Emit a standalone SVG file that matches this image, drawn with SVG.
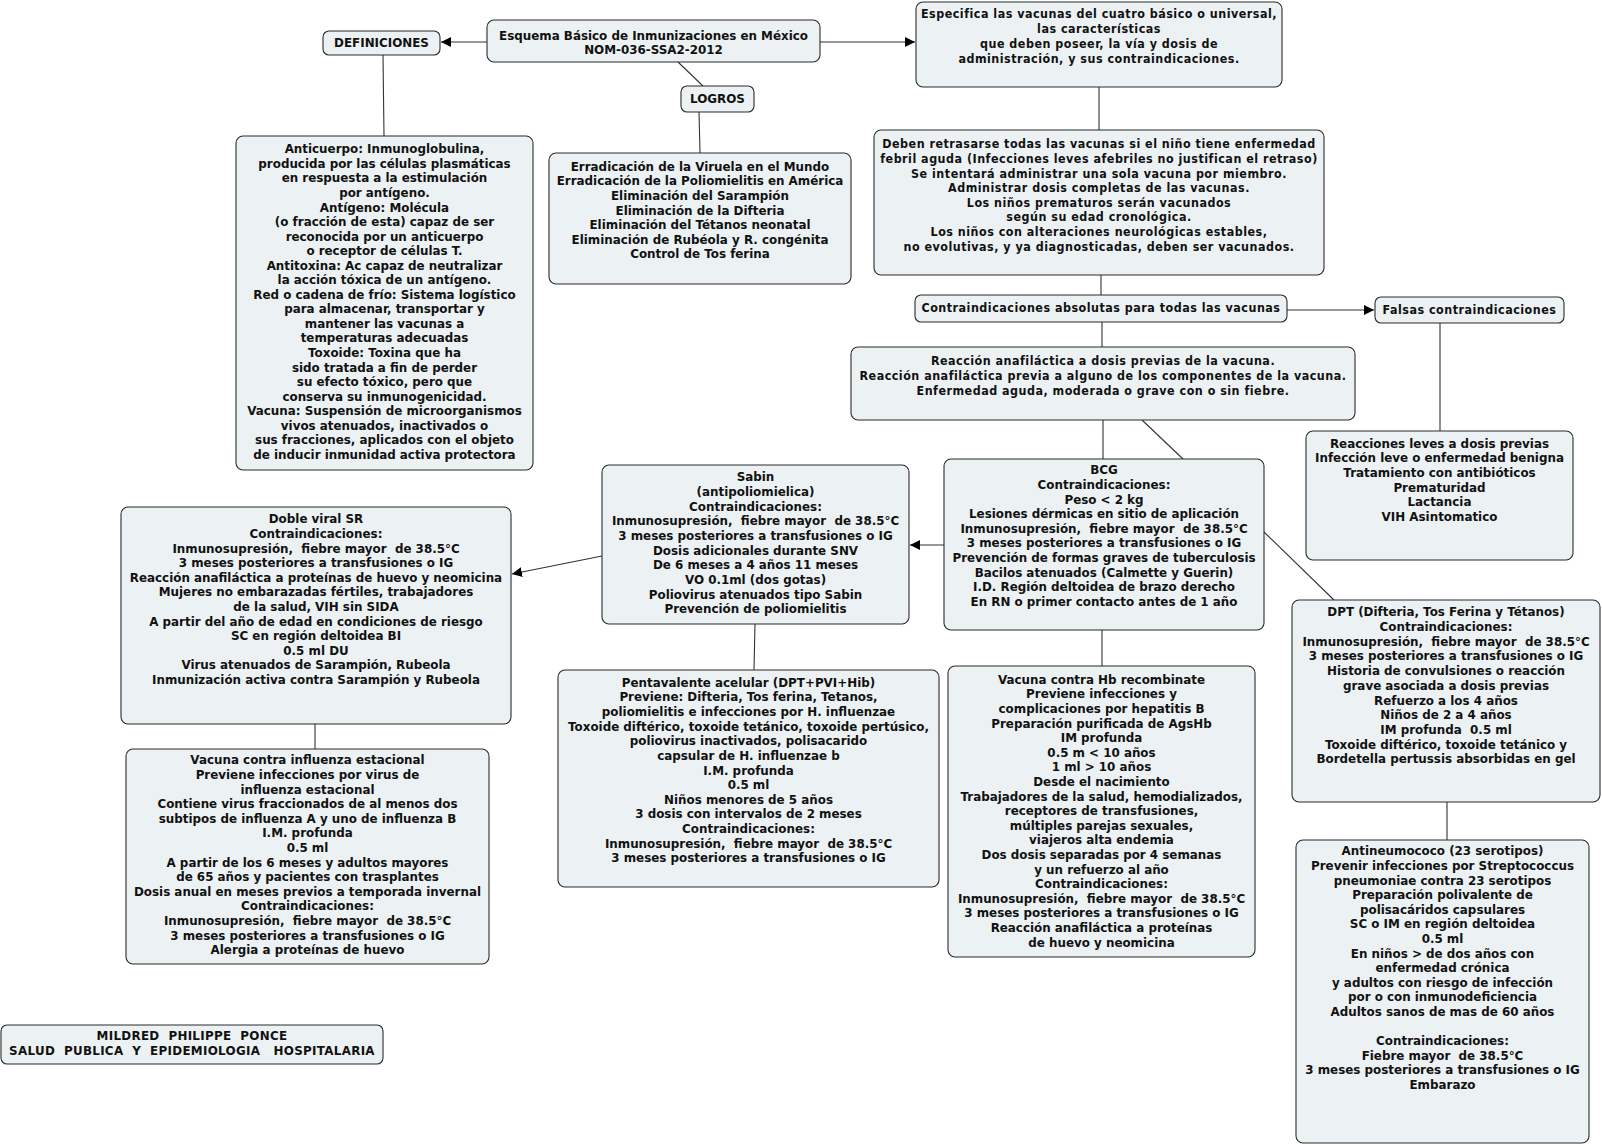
<svg xmlns="http://www.w3.org/2000/svg" width="1602" height="1147" viewBox="0 0 1602 1147">
<style>
.bx{fill:#ecf2f4;stroke:#2b2b2b;stroke-width:1.1}
.t{font-family:"DejaVu Sans",Verdana,sans-serif;font-weight:bold;font-size:11.9px;fill:#111;text-anchor:middle;white-space:pre}
.c{font-family:"DejaVu Sans Condensed","DejaVu Sans",sans-serif;font-weight:bold;font-size:12.4px;letter-spacing:0.5px;fill:#111;text-anchor:middle;white-space:pre}
.ln{stroke:#333;stroke-width:1.1;fill:none}
</style>
<defs>
<marker id="ar" viewBox="0 0 10 10" refX="10" refY="5" markerWidth="10" markerHeight="10" markerUnits="userSpaceOnUse" orient="auto">
<path d="M0,0 L10,5 L0,10 z" fill="#000"/>
</marker>
</defs>
<rect width="1602" height="1147" fill="#fff"/>
<g id="connectors">
<line class="ln" x1="487" y1="42" x2="441" y2="42" marker-end="url(#ar)"/>
<line class="ln" x1="820" y1="42" x2="915" y2="42" marker-end="url(#ar)"/>
<line class="ln" x1="678" y1="62" x2="703" y2="86"/>
<line class="ln" x1="699" y1="112" x2="700" y2="153"/>
<line class="ln" x1="383" y1="55" x2="384" y2="136"/>
<line class="ln" x1="1099" y1="87" x2="1099" y2="130"/>
<line class="ln" x1="1101" y1="275" x2="1101" y2="295"/>
<line class="ln" x1="1287" y1="310" x2="1374" y2="310" marker-end="url(#ar)"/>
<line class="ln" x1="1102" y1="322" x2="1102" y2="347"/>
<line class="ln" x1="1440" y1="323" x2="1440" y2="431"/>
<line class="ln" x1="1103" y1="420" x2="1103" y2="459"/>
<line class="ln" x1="1142" y1="420" x2="1183" y2="459"/>
<line class="ln" x1="944" y1="545" x2="910" y2="545" marker-end="url(#ar)"/>
<line class="ln" x1="602" y1="556" x2="512" y2="574" marker-end="url(#ar)"/>
<line class="ln" x1="315" y1="724" x2="315" y2="749"/>
<line class="ln" x1="755" y1="624" x2="754" y2="670"/>
<line class="ln" x1="1102" y1="630" x2="1102" y2="666"/>
<line class="ln" x1="1264" y1="532" x2="1334" y2="600"/>
<line class="ln" x1="1447" y1="802" x2="1447" y2="840"/>
</g>
<g id="n-definiciones">
<rect class="bx" x="323" y="31" width="117" height="24" rx="6"/>
<text class="t" x="381.5" y="46.5">DEFINICIONES</text>
</g>
<g id="n-title">
<rect class="bx" x="487" y="20" width="333" height="42" rx="7"/>
<text class="t" x="653.5" y="39.5">Esquema Básico de Inmunizaciones en México<tspan x="653.5" dy="14.5">NOM-036-SSA2-2012</tspan></text>
</g>
<g id="n-logros">
<rect class="bx" x="681" y="86" width="73" height="26" rx="6"/>
<text class="t" x="717.5" y="102.5">LOGROS</text>
</g>
<g id="n-especifica">
<rect class="bx" x="916" y="2" width="366" height="85" rx="7"/>
<text class="c" x="1099" y="17.5">Especifica las vacunas del cuatro básico o universal,<tspan x="1099" dy="15">las características</tspan><tspan x="1099" dy="15">que deben poseer, la vía y dosis de</tspan><tspan x="1099" dy="15">administración, y sus contraindicaciones.</tspan></text>
</g>
<g id="n-anticuerpo">
<rect class="bx" x="236" y="136" width="297" height="334" rx="7"/>
<text class="t" x="384.5" y="153.3">Anticuerpo: Inmunoglobulina,<tspan x="384.5" dy="14.55">producida por las células plasmáticas</tspan><tspan x="384.5" dy="14.55">en respuesta a la estimulación</tspan><tspan x="384.5" dy="14.55">por antígeno.</tspan><tspan x="384.5" dy="14.55">Antígeno: Molécula</tspan><tspan x="384.5" dy="14.55">(o fracción de esta) capaz de ser</tspan><tspan x="384.5" dy="14.55">reconocida por un anticuerpo</tspan><tspan x="384.5" dy="14.55">o receptor de células T.</tspan><tspan x="384.5" dy="14.55">Antitoxina: Ac capaz de neutralizar</tspan><tspan x="384.5" dy="14.55">la acción tóxica de un antígeno.</tspan><tspan x="384.5" dy="14.55">Red o cadena de frío: Sistema logístico</tspan><tspan x="384.5" dy="14.55">para almacenar, transportar y</tspan><tspan x="384.5" dy="14.55">mantener las vacunas a</tspan><tspan x="384.5" dy="14.55">temperaturas adecuadas</tspan><tspan x="384.5" dy="14.55">Toxoide: Toxina que ha</tspan><tspan x="384.5" dy="14.55">sido tratada a fin de perder</tspan><tspan x="384.5" dy="14.55">su efecto tóxico, pero que</tspan><tspan x="384.5" dy="14.55">conserva su inmunogenicidad.</tspan><tspan x="384.5" dy="14.55">Vacuna: Suspensión de microorganismos</tspan><tspan x="384.5" dy="14.55">vivos atenuados, inactivados o</tspan><tspan x="384.5" dy="14.55">sus fracciones, aplicados con el objeto</tspan><tspan x="384.5" dy="14.55">de inducir inmunidad activa protectora</tspan></text>
</g>
<g id="n-logros-list">
<rect class="bx" x="549" y="153" width="302" height="131" rx="7"/>
<text class="t" x="700" y="170.8">Erradicación de la Viruela en el Mundo<tspan x="700" dy="14.6">Erradicación de la Poliomielitis en América</tspan><tspan x="700" dy="14.6">Eliminación del Sarampión</tspan><tspan x="700" dy="14.6">Eliminación de la Difteria</tspan><tspan x="700" dy="14.6">Eliminación del Tétanos neonatal</tspan><tspan x="700" dy="14.6">Eliminación de Rubéola y R. congénita</tspan><tspan x="700" dy="14.6">Control de Tos ferina</tspan></text>
</g>
<g id="n-deben">
<rect class="bx" x="874" y="130" width="450" height="145" rx="7"/>
<text class="c" x="1099" y="148.3">Deben retrasarse todas las vacunas si el niño tiene enfermedad<tspan x="1099" dy="14.6">febril aguda (Infecciones leves afebriles no justifican el retraso)</tspan><tspan x="1099" dy="14.6">Se intentará administrar una sola vacuna por miembro.</tspan><tspan x="1099" dy="14.6">Administrar dosis completas de las vacunas.</tspan><tspan x="1099" dy="14.6">Los niños prematuros serán vacunados</tspan><tspan x="1099" dy="14.6">según su edad cronológica.</tspan><tspan x="1099" dy="14.6">Los niños con alteraciones neurológicas estables,</tspan><tspan x="1099" dy="14.6">no evolutivas, y ya diagnosticadas, deben ser vacunados.</tspan></text>
</g>
<g id="n-contra-abs">
<rect class="bx" x="915" y="295" width="372" height="27" rx="6"/>
<text class="c" x="1101" y="311.8">Contraindicaciones absolutas para todas las vacunas</text>
</g>
<g id="n-falsas">
<rect class="bx" x="1375" y="297" width="189" height="26" rx="6"/>
<text class="c" x="1469.5" y="313.9">Falsas contraindicaciones</text>
</g>
<g id="n-reaccion">
<rect class="bx" x="851" y="347" width="504" height="73" rx="7"/>
<text class="c" x="1103" y="365">Reacción anafiláctica a dosis previas de la vacuna.<tspan x="1103" dy="14.8">Reacción anafiláctica previa a alguno de los componentes de la vacuna.</tspan><tspan x="1103" dy="14.8">Enfermedad aguda, moderada o grave con o sin fiebre.</tspan></text>
</g>
<g id="n-reacciones-leves">
<rect class="bx" x="1306" y="431" width="267" height="129" rx="7"/>
<text class="t" x="1439.5" y="447.7">Reacciones leves a dosis previas<tspan x="1439.5" dy="14.6">Infección leve o enfermedad benigna</tspan><tspan x="1439.5" dy="14.6">Tratamiento con antibióticos</tspan><tspan x="1439.5" dy="14.6">Prematuridad</tspan><tspan x="1439.5" dy="14.6">Lactancia</tspan><tspan x="1439.5" dy="14.6">VIH Asintomatico</tspan></text>
</g>
<g id="n-sabin">
<rect class="bx" x="602" y="465" width="307" height="159" rx="7"/>
<text class="t" x="755.5" y="481.3">Sabin<tspan x="755.5" dy="14.67">(antipoliomielica)</tspan><tspan x="755.5" dy="14.67">Contraindicaciones:</tspan><tspan x="755.5" dy="14.67">Inmunosupresión,  fiebre mayor  de 38.5°C</tspan><tspan x="755.5" dy="14.67">3 meses posteriores a transfusiones o IG</tspan><tspan x="755.5" dy="14.67">Dosis adicionales durante SNV</tspan><tspan x="755.5" dy="14.67">De 6 meses a 4 años 11 meses</tspan><tspan x="755.5" dy="14.67">VO 0.1ml (dos gotas)</tspan><tspan x="755.5" dy="14.67">Poliovirus atenuados tipo Sabin</tspan><tspan x="755.5" dy="14.67">Prevención de poliomielitis</tspan></text>
</g>
<g id="n-bcg">
<rect class="bx" x="944" y="459" width="320" height="171" rx="7"/>
<text class="t" x="1104" y="474.3">BCG<tspan x="1104" dy="14.6">Contraindicaciones:</tspan><tspan x="1104" dy="14.6">Peso &lt; 2 kg</tspan><tspan x="1104" dy="14.6">Lesiones dérmicas en sitio de aplicación</tspan><tspan x="1104" dy="14.6">Inmunosupresión,  fiebre mayor  de 38.5°C</tspan><tspan x="1104" dy="14.6">3 meses posteriores a transfusiones o IG</tspan><tspan x="1104" dy="14.6">Prevención de formas graves de tuberculosis</tspan><tspan x="1104" dy="14.6">Bacilos atenuados (Calmette y Guerin)</tspan><tspan x="1104" dy="14.6">I.D. Región deltoidea de brazo derecho</tspan><tspan x="1104" dy="14.6">En RN o primer contacto antes de 1 año</tspan></text>
</g>
<g id="n-doble-viral">
<rect class="bx" x="121" y="507" width="390" height="217" rx="7"/>
<text class="t" x="316" y="523.3">Doble viral SR<tspan x="316" dy="14.6">Contraindicaciones:</tspan><tspan x="316" dy="14.6">Inmunosupresión,  fiebre mayor  de 38.5°C</tspan><tspan x="316" dy="14.6">3 meses posteriores a transfusiones o IG</tspan><tspan x="316" dy="14.6">Reacción anafiláctica a proteínas de huevo y neomicina</tspan><tspan x="316" dy="14.6">Mujeres no embarazadas fértiles, trabajadores</tspan><tspan x="316" dy="14.6">de la salud, VIH sin SIDA</tspan><tspan x="316" dy="14.6">A partir del año de edad en condiciones de riesgo</tspan><tspan x="316" dy="14.6">SC en región deltoidea BI</tspan><tspan x="316" dy="14.6">0.5 ml DU</tspan><tspan x="316" dy="14.6">Virus atenuados de Sarampión, Rubeola</tspan><tspan x="316" dy="14.6">Inmunización activa contra Sarampión y Rubeola</tspan></text>
</g>
<g id="n-dpt">
<rect class="bx" x="1292" y="600" width="308" height="202" rx="7"/>
<text class="t" x="1446" y="616.3">DPT (Difteria, Tos Ferina y Tétanos)<tspan x="1446" dy="14.7">Contraindicaciones:</tspan><tspan x="1446" dy="14.7">Inmunosupresión,  fiebre mayor  de 38.5°C</tspan><tspan x="1446" dy="14.7">3 meses posteriores a transfusiones o IG</tspan><tspan x="1446" dy="14.7">Historia de convulsiones o reacción</tspan><tspan x="1446" dy="14.7">grave asociada a dosis previas</tspan><tspan x="1446" dy="14.7">Refuerzo a los 4 años</tspan><tspan x="1446" dy="14.7">Niños de 2 a 4 años</tspan><tspan x="1446" dy="14.7">IM profunda  0.5 ml</tspan><tspan x="1446" dy="14.7">Toxoide diftérico, toxoide tetánico y</tspan><tspan x="1446" dy="14.7">Bordetella pertussis absorbidas en gel</tspan></text>
</g>
<g id="n-pentavalente">
<rect class="bx" x="558" y="670" width="381" height="217" rx="7"/>
<text class="t" x="748.5" y="686.8">Pentavalente acelular (DPT+PVI+Hib)<tspan x="748.5" dy="14.62">Previene: Difteria, Tos ferina, Tetanos,</tspan><tspan x="748.5" dy="14.62">poliomielitis e infecciones por H. influenzae</tspan><tspan x="748.5" dy="14.62">Toxoide diftérico, toxoide tetánico, toxoide pertúsico,</tspan><tspan x="748.5" dy="14.62">poliovirus inactivados, polisacarido</tspan><tspan x="748.5" dy="14.62">capsular de H. influenzae b</tspan><tspan x="748.5" dy="14.62">I.M. profunda</tspan><tspan x="748.5" dy="14.62">0.5 ml</tspan><tspan x="748.5" dy="14.62">Niños menores de 5 años</tspan><tspan x="748.5" dy="14.62">3 dosis con intervalos de 2 meses</tspan><tspan x="748.5" dy="14.62">Contraindicaciones:</tspan><tspan x="748.5" dy="14.62">Inmunosupresión,  fiebre mayor  de 38.5°C</tspan><tspan x="748.5" dy="14.62">3 meses posteriores a transfusiones o IG</tspan></text>
</g>
<g id="n-hb">
<rect class="bx" x="948" y="666" width="307" height="291" rx="7"/>
<text class="t" x="1101.5" y="683.7">Vacuna contra Hb recombinate<tspan x="1101.5" dy="14.6">Previene infecciones y</tspan><tspan x="1101.5" dy="14.6">complicaciones por hepatitis B</tspan><tspan x="1101.5" dy="14.6">Preparación purificada de AgsHb</tspan><tspan x="1101.5" dy="14.6">IM profunda</tspan><tspan x="1101.5" dy="14.6">0.5 m &lt; 10 años</tspan><tspan x="1101.5" dy="14.6">1 ml &gt; 10 años</tspan><tspan x="1101.5" dy="14.6">Desde el nacimiento</tspan><tspan x="1101.5" dy="14.6">Trabajadores de la salud, hemodializados,</tspan><tspan x="1101.5" dy="14.6">receptores de transfusiones,</tspan><tspan x="1101.5" dy="14.6">múltiples parejas sexuales,</tspan><tspan x="1101.5" dy="14.6">viajeros alta endemia</tspan><tspan x="1101.5" dy="14.6">Dos dosis separadas por 4 semanas</tspan><tspan x="1101.5" dy="14.6">y un refuerzo al año</tspan><tspan x="1101.5" dy="14.6">Contraindicaciones:</tspan><tspan x="1101.5" dy="14.6">Inmunosupresión,  fiebre mayor  de 38.5°C</tspan><tspan x="1101.5" dy="14.6">3 meses posteriores a transfusiones o IG</tspan><tspan x="1101.5" dy="14.6">Reacción anafiláctica a proteínas</tspan><tspan x="1101.5" dy="14.6">de huevo y neomicina</tspan></text>
</g>
<g id="n-influenza">
<rect class="bx" x="126" y="749" width="363" height="215" rx="7"/>
<text class="t" x="307.5" y="764.3">Vacuna contra influenza estacional<tspan x="307.5" dy="14.6">Previene infecciones por virus de</tspan><tspan x="307.5" dy="14.6">influenza estacional</tspan><tspan x="307.5" dy="14.6">Contiene virus fraccionados de al menos dos</tspan><tspan x="307.5" dy="14.6">subtipos de influenza A y uno de influenza B</tspan><tspan x="307.5" dy="14.6">I.M. profunda</tspan><tspan x="307.5" dy="14.6">0.5 ml</tspan><tspan x="307.5" dy="14.6">A partir de los 6 meses y adultos mayores</tspan><tspan x="307.5" dy="14.6">de 65 años y pacientes con trasplantes</tspan><tspan x="307.5" dy="14.6">Dosis anual en meses previos a temporada invernal</tspan><tspan x="307.5" dy="14.6">Contraindicaciones:</tspan><tspan x="307.5" dy="14.6">Inmunosupresión,  fiebre mayor  de 38.5°C</tspan><tspan x="307.5" dy="14.6">3 meses posteriores a transfusiones o IG</tspan><tspan x="307.5" dy="14.6">Alergia a proteínas de huevo</tspan></text>
</g>
<g id="n-antineumococo">
<rect class="bx" x="1296" y="840" width="293" height="303" rx="7"/>
<text class="t" x="1442.5" y="855.3">Antineumococo (23 serotipos)<tspan x="1442.5" dy="14.6">Prevenir infecciones por Streptococcus</tspan><tspan x="1442.5" dy="14.6">pneumoniae contra 23 serotipos</tspan><tspan x="1442.5" dy="14.6">Preparación polivalente de</tspan><tspan x="1442.5" dy="14.6">polisacáridos capsulares</tspan><tspan x="1442.5" dy="14.6">SC o IM en región deltoidea</tspan><tspan x="1442.5" dy="14.6">0.5 ml</tspan><tspan x="1442.5" dy="14.6">En niños &gt; de dos años con</tspan><tspan x="1442.5" dy="14.6">enfermedad crónica</tspan><tspan x="1442.5" dy="14.6">y adultos con riesgo de infección</tspan><tspan x="1442.5" dy="14.6">por o con inmunodeficiencia</tspan><tspan x="1442.5" dy="14.6">Adultos sanos de mas de 60 años</tspan><tspan x="1442.5" dy="29.2">Contraindicaciones:</tspan><tspan x="1442.5" dy="14.6">Fiebre mayor  de 38.5°C</tspan><tspan x="1442.5" dy="14.6">3 meses posteriores a transfusiones o IG</tspan><tspan x="1442.5" dy="14.6">Embarazo</tspan></text>
</g>
<g id="n-autor">
<rect class="bx" x="1" y="1025" width="382" height="39" rx="6"/>
<text class="t" x="192" y="1040.3" style="letter-spacing:0.3px">MILDRED  PHILIPPE  PONCE<tspan x="192" dy="14.4">SALUD  PUBLICA  Y  EPIDEMIOLOGIA   HOSPITALARIA</tspan></text>
</g>
</svg>
